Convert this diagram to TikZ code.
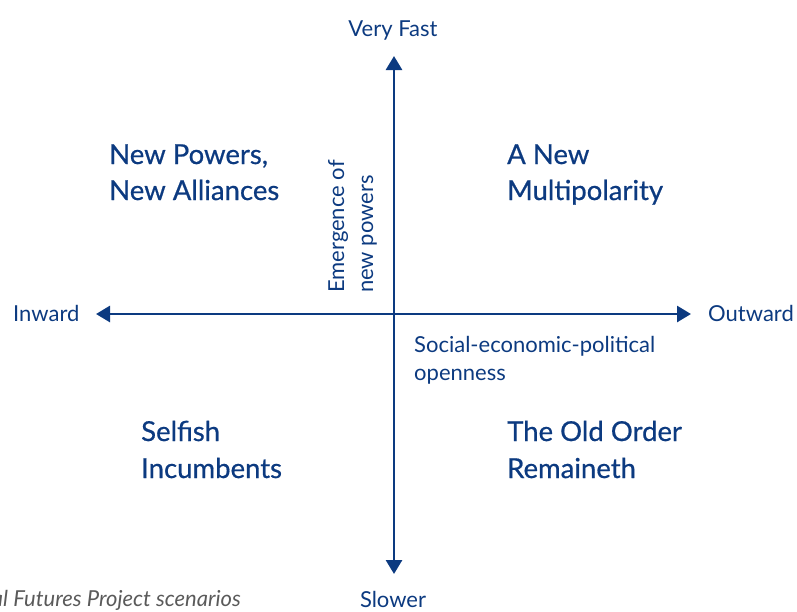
\documentclass[tikz,border=0pt]{standalone}
\usepackage{fontspec}
\setmainfont{Lato}
\newfontfamily\quadfont[FakeBold=0.6]{Lato}
\usetikzlibrary{arrows.meta}
\definecolor{navy}{RGB}{12,58,128}
\definecolor{capgrey}{RGB}{90,90,90}
\tikzset{
  axis/.style={draw=navy, line width=2.8pt, {Triangle[width=16pt,length=14pt]}-{Triangle[width=16pt,length=14pt]}},
  lbl/.style={text=navy, font=\fontsize{22}{26}\selectfont, inner sep=0pt},
  quad/.style={text=navy, font=\quadfont\fontsize{27.5}{33}\selectfont, inner sep=0pt, anchor=base west},
  captxt/.style={text=capgrey, font=\fontsize{22}{26}\selectfont\itshape, inner sep=0pt}
}
\begin{document}
\begin{tikzpicture}[x=1pt,y=-1pt]
\useasboundingbox (0,0) rectangle (797,611);
\clip (0,0) rectangle (797,611);
\coordinate (top) at (394,56);
\coordinate (bot) at (394,574);
\coordinate (lft) at (96,314);
\coordinate (rgt) at (691,314);
\draw[axis] (bot) -- (top);
\draw[axis] (lft) -- (rgt);
\node[lbl, anchor=base] (fast) at (393,36) {Very Fast};
\node[lbl, anchor=base] (slow) at (393,607) {Slower};
\node[lbl, anchor=base west] (inw) at (13,321) {Inward};
\node[lbl, anchor=base west] (outw) at (708,321) {Outward};
\node[lbl, anchor=base west] (soc1) at (414,352) {Social-economic-political};
\node[lbl, anchor=base west] (soc2) at (414,380) {openness};
\node[lbl, rotate=90, anchor=base west] (emg1) at (344,293) {Emergence of};
\node[lbl, rotate=90, anchor=base west] (emg2) at (373,293) {new powers};
\node[quad] (q1a) at (109,164) {New Powers,};
\node[quad] (q1b) at (109,200) {New Alliances};
\node[quad] (q2a) at (507,164) {A New};
\node[quad] (q2b) at (507,200) {Multipolarity};
\node[quad] (q3a) at (141,441) {Selfish};
\node[quad] (q3b) at (141,478) {Incumbents};
\node[quad] (q4a) at (507,441) {The Old Order};
\node[quad] (q4b) at (507,478) {Remaineth};
\node[captxt, anchor=base east] (capt) at (241,606) {al Futures Project scenarios};
\end{tikzpicture}
\end{document}
